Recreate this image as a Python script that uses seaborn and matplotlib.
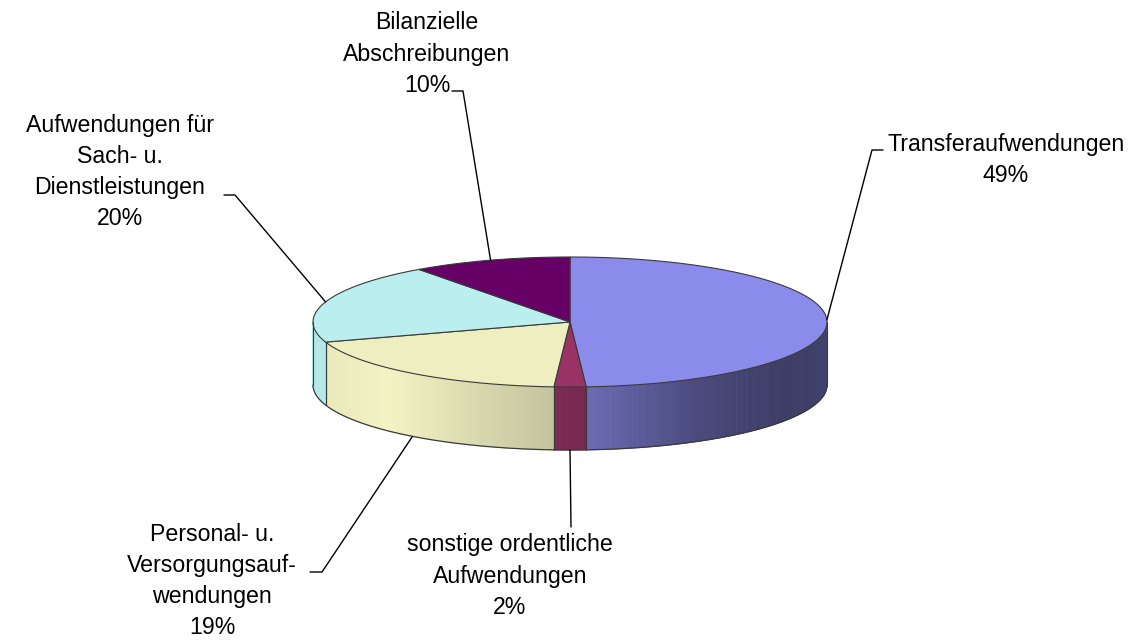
import numpy as np
import matplotlib.pyplot as plt
import seaborn as sns
from matplotlib.colors import to_rgb

sns.set_style("white")
plt.rcParams['font.family'] = ['Liberation Sans', 'DejaVu Sans']
plt.rcParams['text.color'] = 'black'

# data (clockwise from 12 o'clock)
labels = ["Transferaufwendungen",
          "sonstige ordentliche\nAufwendungen",
          "Personal- u.\nVersorgungsauf-\nwendungen",
          "Aufwendungen für\nSach- u.\nDienstleistungen",
          "Bilanzielle\nAbschreibungen"]
shares = [49, 2, 19, 20, 10]
colors = ["#8B8BEB", "#993366", "#EEEEC0", "#BBEEEE", "#660066"]

# layout (pixel space)
cx, cy, rx, ry, depth = 570, 322, 257, 65, 63
label_pos = [(1006, 160), (510, 576), (212, 581), (120, 172), (427, 54)]
elbows = [[(883, 150), (872, 150)],
          [(571, 527)],
          [(310, 572), (322, 572)],
          [(224, 195), (235, 195)],
          [(452, 91), (463, 91)]]

# side shading as function of cos(angle)
shade_u = [-1.0, -0.7, -0.066, 0.066, 0.5, 0.85, 1.0]
shade_f = [0.97, 1.02, 0.82, 0.77, 0.53, 0.43, 0.47]


def pt(theta, down=0.0):
    t = np.radians(theta)
    return cx + rx * np.cos(t), cy - ry * np.sin(t) + down


fig = plt.figure(figsize=(11.37, 6.4), dpi=100)
ax = fig.add_axes([0, 0, 1, 1])
ax.set_xlim(0, 1137)
ax.set_ylim(640, 0)
ax.axis('off')

total = sum(shares)
cum = np.concatenate([[0], np.cumsum(shares)]) / total
starts = 90 - 360 * cum[:-1]
ends = 90 - 360 * cum[1:]
edge = '#3a3a3a'

# side walls (front half only)
for s, e, c in zip(starts, ends, colors):
    a, b = max(e, -180), min(s, 0)
    if a >= b:
        continue
    base = np.array(to_rgb(c))
    steps = np.linspace(a, b, max(int((b - a) * 2), 2) + 1)
    for t0, t1 in zip(steps[:-1], steps[1:]):
        u = np.cos(np.radians((t0 + t1) / 2))
        col = np.clip(base * np.interp(u, shade_u, shade_f), 0, 1)
        x0, y0 = pt(t0)
        x1, y1 = pt(t1)
        ax.fill([x0, x1, x1, x0], [y0, y1, y1 + depth, y0 + depth],
                color=col, lw=0.6, ec=col)
    for t in (a, b):
        x, y = pt(t)
        ax.plot([x, x], [y, y + depth], color=edge, lw=0.8)

# bottom outline of side
tt = np.linspace(-180, 0, 300)
bx, by = pt(tt, depth)
ax.plot(bx, by, color=edge, lw=0.9)

# top faces
for s, e, c in zip(starts, ends, colors):
    tt = np.linspace(s, e, 200)
    xs, ys = pt(tt)
    ax.fill(np.r_[cx, xs], np.r_[cy, ys], color=c, ec=edge, lw=0.8)

# labels with leader lines
for i, (lab, v) in enumerate(zip(labels, shares)):
    mid = (starts[i] + ends[i]) / 2
    front = np.sin(np.radians(mid)) < 0
    ax_, ay_ = pt(mid, depth if front else 0)
    path = elbows[i] + [(ax_, ay_)]
    ax.plot([p[0] for p in path], [p[1] for p in path], color='black', lw=1.0)
    ax.text(*label_pos[i], f"{lab}\n{v}%", ha='center', va='center',
            fontsize=16.7, linespacing=1.45, color='black')

fig.savefig("out.png", dpi=100)
